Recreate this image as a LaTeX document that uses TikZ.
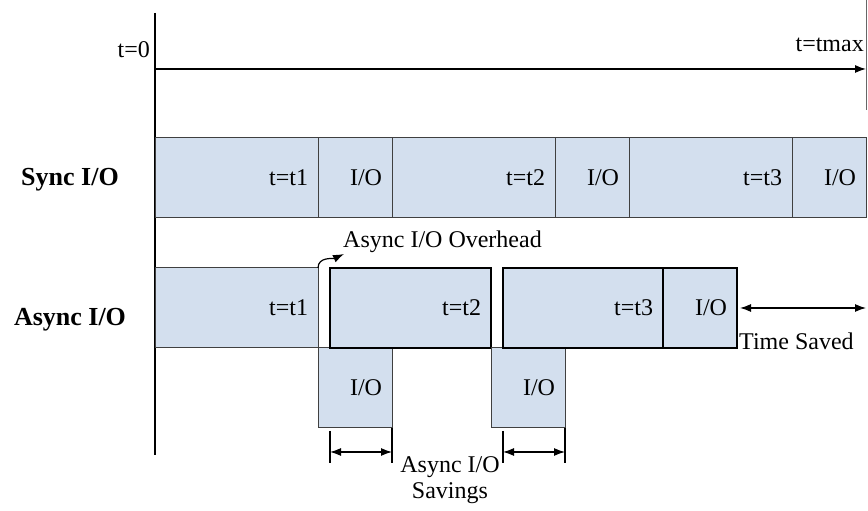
\documentclass[tikz,border=0pt]{standalone}
\usepackage{fontspec}
\setmainfont{Liberation Serif}
\usepackage{tikz}
\usetikzlibrary{positioning,arrows.meta}
\definecolor{iofill}{RGB}{211,223,238}

\begin{document}
\begin{tikzpicture}[x=1pt, y=1pt, node distance=0pt, >={Latex[length=11pt,width=8pt]},
    every node/.style={font=\fontsize{24}{26}\selectfont, inner sep=2pt},
    run/.style={draw=black!75, line width=1pt, fill=iofill, minimum height=80pt, inner sep=0pt, outer sep=0pt,
        text width=#1, inner xsep=10pt, align=right},
    io/.style={run=54pt},
    hard/.style={draw=black, line width=1.4pt},
    rowlbl/.style={font=\fontsize{26}{30}\selectfont\bfseries}]
    \useasboundingbox (0,0) rectangle (868,511);

    % time axis
    \coordinate (axtop) at (155,498);
    \coordinate (axbot) at (155,56);
    \coordinate (t0) at (155,442);
    \coordinate (tend) at (866,442);
    \coordinate (mtop) at (866,511);
    \coordinate (mbot) at (866,401);
    \draw[line width=1.2pt] (axtop) -- (axbot);
    \draw[->, line width=1.2pt] (t0) -- (tend);
    \draw[black!60, line width=0.8pt] (mtop) -- (mbot);
    \node[anchor=east] (lt0) at (152,461) {t=0};
    \node[anchor=east] (ltmax) at (866,466) {t=tmax};

    % sync row
    \node[run=143pt, anchor=south west] (s1) at (155,293) {t=t1};
    \node[io, right=of s1] (sio1) {I/O};
    \node[run=143pt, right=of sio1] (s2) {t=t2};
    \node[io, right=of s2] (sio2) {I/O};
    \node[run=143pt, right=of sio2] (s3) {t=t3};
    \node[io, right=of s3] (sio3) {I/O};
    \node[rowlbl] (lsync) at (70,331) {Sync I/O};

    % async row
    \node[run=143pt, anchor=south west] (a1) at (155,163) {t=t1};
    \node[io, below right=of a1] (b1) {I/O};
    \node[run=141pt, hard, right=12pt of a1] (a2) {t=t2};
    \node[io, below right=of a2] (b2) {I/O};
    \node[run=140pt, hard, right=12pt of a2] (a3) {t=t3};
    \node[io, hard, right=of a3] (aio3) {I/O};
    \node[rowlbl] (lasync) at (70,191) {Async I/O};

    % overhead
    \node[anchor=west] (ovh) at (341,269) {Async I/O Overhead};
    \coordinate (ovhtip) at (344,257);
    \draw[->, line width=1.2pt] (a1.north east) to[out=90, in=205] (ovhtip);

    % savings
    \coordinate (sv1l) at (a2.west |- b1.south);
    \coordinate (sv1r) at (b1.south east);
    \coordinate (sv2l) at (a3.west |- b2.south);
    \coordinate (sv2r) at (b2.south east);
    \foreach \l/\r in {sv1l/sv1r, sv2l/sv2r} {
        \draw[line width=1.4pt] ([yshift=-3pt]\l) -- ([yshift=-35pt]\l);
        \draw[line width=1.4pt] (\r) -- ([yshift=-35pt]\r);
        \draw[<->, line width=1.2pt] ([yshift=-24pt]\l) -- ([yshift=-24pt]\r);
    }
    \node[align=center] (lsav) at (450,31) {Async I/O\\Savings};

    % time saved
    \coordinate (tsend) at (sio3.east |- aio3.east);
    \draw[<->, line width=1.2pt] ([xshift=3pt]aio3.east) -- (tsend);
    \node[anchor=west] (lts) at (737,170) {Time Saved};
\end{tikzpicture}
\end{document}
